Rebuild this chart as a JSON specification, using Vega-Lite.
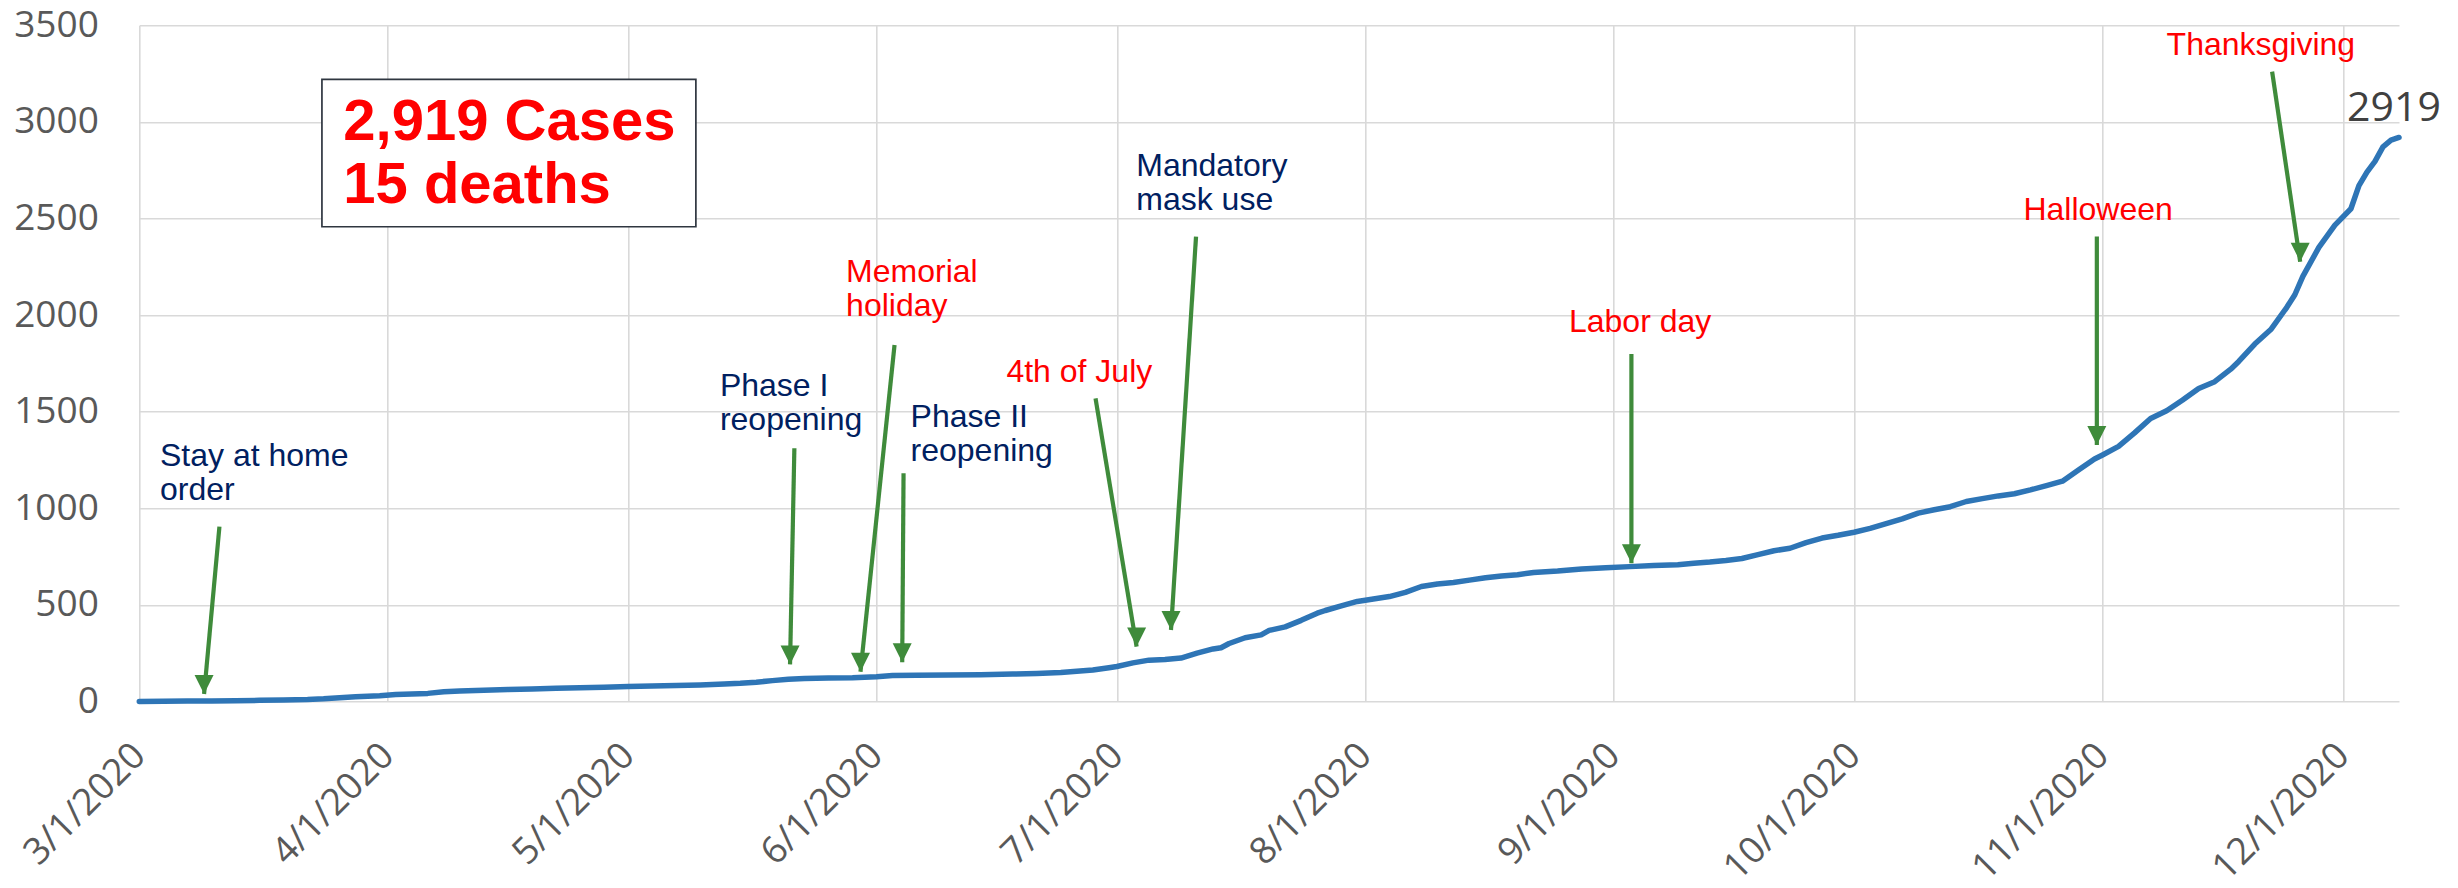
{
  "$schema": "https://vega.github.io/schema/vega-lite/v6.json",
  "width": 2259.7,
  "height": 676.3,
  "autosize": {"type": "none"},
  "padding": {"left": 139.3, "top": 25.2, "right": 59, "bottom": 186.5},
  "background": "white",
  "config": {
    "view": {"stroke": null},
    "axis": {"ticks": false, "domain": false, "gridColor": "#D9D9D9", "gridWidth": 1.6, "labelColor": "#595959", "labelFont": "Open Sans", "labelFontSize": 37}
  },
  "datasets": {
    "cases": [
      {"date": "2020-03-01", "value": 0}, {"date": "2020-03-04", "value": 1}, {"date": "2020-03-07", "value": 2},
      {"date": "2020-03-10", "value": 3}, {"date": "2020-03-13", "value": 4}, {"date": "2020-03-16", "value": 6},
      {"date": "2020-03-19", "value": 8}, {"date": "2020-03-22", "value": 10}, {"date": "2020-03-24", "value": 14},
      {"date": "2020-03-26", "value": 20}, {"date": "2020-03-28", "value": 24}, {"date": "2020-03-31", "value": 30},
      {"date": "2020-04-02", "value": 36}, {"date": "2020-04-04", "value": 39}, {"date": "2020-04-06", "value": 42},
      {"date": "2020-04-08", "value": 50}, {"date": "2020-04-10", "value": 54}, {"date": "2020-04-13", "value": 58},
      {"date": "2020-04-16", "value": 62}, {"date": "2020-04-19", "value": 65}, {"date": "2020-04-22", "value": 68},
      {"date": "2020-04-25", "value": 71}, {"date": "2020-04-28", "value": 74}, {"date": "2020-05-01", "value": 78},
      {"date": "2020-05-04", "value": 80}, {"date": "2020-05-07", "value": 83}, {"date": "2020-05-10", "value": 86},
      {"date": "2020-05-13", "value": 90}, {"date": "2020-05-15", "value": 94}, {"date": "2020-05-17", "value": 100},
      {"date": "2020-05-19", "value": 108}, {"date": "2020-05-21", "value": 115}, {"date": "2020-05-23", "value": 119},
      {"date": "2020-05-26", "value": 121}, {"date": "2020-05-29", "value": 123}, {"date": "2020-06-01", "value": 128},
      {"date": "2020-06-03", "value": 134}, {"date": "2020-06-06", "value": 136}, {"date": "2020-06-10", "value": 137},
      {"date": "2020-06-14", "value": 139}, {"date": "2020-06-18", "value": 142}, {"date": "2020-06-21", "value": 145},
      {"date": "2020-06-24", "value": 150}, {"date": "2020-06-26", "value": 156}, {"date": "2020-06-28", "value": 163},
      {"date": "2020-06-30", "value": 175}, {"date": "2020-07-01", "value": 181}, {"date": "2020-07-03", "value": 200},
      {"date": "2020-07-05", "value": 214}, {"date": "2020-07-07", "value": 217}, {"date": "2020-07-09", "value": 225},
      {"date": "2020-07-11", "value": 250}, {"date": "2020-07-13", "value": 272}, {"date": "2020-07-14", "value": 278},
      {"date": "2020-07-15", "value": 300}, {"date": "2020-07-17", "value": 330}, {"date": "2020-07-19", "value": 345},
      {"date": "2020-07-20", "value": 368}, {"date": "2020-07-22", "value": 386}, {"date": "2020-07-24", "value": 420},
      {"date": "2020-07-26", "value": 457}, {"date": "2020-07-27", "value": 471}, {"date": "2020-07-29", "value": 495},
      {"date": "2020-07-31", "value": 518}, {"date": "2020-08-02", "value": 530}, {"date": "2020-08-04", "value": 543},
      {"date": "2020-08-06", "value": 565}, {"date": "2020-08-08", "value": 595}, {"date": "2020-08-10", "value": 608},
      {"date": "2020-08-12", "value": 616}, {"date": "2020-08-14", "value": 628}, {"date": "2020-08-16", "value": 640},
      {"date": "2020-08-18", "value": 650}, {"date": "2020-08-20", "value": 656}, {"date": "2020-08-22", "value": 668},
      {"date": "2020-08-25", "value": 675}, {"date": "2020-08-28", "value": 686}, {"date": "2020-08-31", "value": 692},
      {"date": "2020-09-03", "value": 698}, {"date": "2020-09-06", "value": 704}, {"date": "2020-09-09", "value": 708},
      {"date": "2020-09-11", "value": 716}, {"date": "2020-09-13", "value": 722}, {"date": "2020-09-15", "value": 730},
      {"date": "2020-09-17", "value": 740}, {"date": "2020-09-19", "value": 760}, {"date": "2020-09-21", "value": 780},
      {"date": "2020-09-23", "value": 793}, {"date": "2020-09-25", "value": 822}, {"date": "2020-09-27", "value": 846},
      {"date": "2020-09-29", "value": 860}, {"date": "2020-10-01", "value": 876}, {"date": "2020-10-03", "value": 896},
      {"date": "2020-10-05", "value": 920}, {"date": "2020-10-07", "value": 945}, {"date": "2020-10-09", "value": 975},
      {"date": "2020-10-11", "value": 992}, {"date": "2020-10-13", "value": 1008}, {"date": "2020-10-15", "value": 1035},
      {"date": "2020-10-17", "value": 1050}, {"date": "2020-10-19", "value": 1064}, {"date": "2020-10-21", "value": 1075},
      {"date": "2020-10-23", "value": 1095}, {"date": "2020-10-25", "value": 1117}, {"date": "2020-10-27", "value": 1140},
      {"date": "2020-10-29", "value": 1198}, {"date": "2020-10-31", "value": 1255}, {"date": "2020-11-01", "value": 1276},
      {"date": "2020-11-03", "value": 1320}, {"date": "2020-11-05", "value": 1390}, {"date": "2020-11-07", "value": 1465},
      {"date": "2020-11-09", "value": 1505}, {"date": "2020-11-11", "value": 1560}, {"date": "2020-11-13", "value": 1620},
      {"date": "2020-11-15", "value": 1655}, {"date": "2020-11-17", "value": 1720}, {"date": "2020-11-18", "value": 1760},
      {"date": "2020-11-20", "value": 1850}, {"date": "2020-11-22", "value": 1925}, {"date": "2020-11-24", "value": 2040},
      {"date": "2020-11-25", "value": 2105}, {"date": "2020-11-26", "value": 2200}, {"date": "2020-11-28", "value": 2350},
      {"date": "2020-11-30", "value": 2465}, {"date": "2020-12-02", "value": 2550}, {"date": "2020-12-03", "value": 2670},
      {"date": "2020-12-04", "value": 2740}, {"date": "2020-12-05", "value": 2795}, {"date": "2020-12-06", "value": 2870},
      {"date": "2020-12-07", "value": 2905}, {"date": "2020-12-08", "value": 2919}
    ],
    "arrows": [
      {"date": "2020-03-11T00:00Z", "value": 905, "date2": "2020-03-09T02:00Z", "value2": 39},
      {"date": "2020-05-21T18:00Z", "value": 1311, "date2": "2020-05-21T05:00Z", "value2": 192},
      {"date": "2020-06-03T06:00Z", "value": 1845, "date2": "2020-05-30T00:00Z", "value2": 154},
      {"date": "2020-06-04T09:00Z", "value": 1181, "date2": "2020-06-04T05:00Z", "value2": 203},
      {"date": "2020-06-28T08:00Z", "value": 1569, "date2": "2020-07-03T11:00Z", "value2": 284},
      {"date": "2020-07-10T21:00Z", "value": 2406, "date2": "2020-07-07T18:00Z", "value2": 370},
      {"date": "2020-09-03T05:00Z", "value": 1799, "date2": "2020-09-03T05:00Z", "value2": 715},
      {"date": "2020-10-31T07:00Z", "value": 2406, "date2": "2020-10-31T07:00Z", "value2": 1328},
      {"date": "2020-11-22T04:00Z", "value": 3260, "date2": "2020-11-25T16:00Z", "value2": 2276}
    ],
    "notes": [
      {"date": "2020-03-03T14:00Z", "value": 1219, "text": "Stay at home\norder", "kind": "policy"},
      {"date": "2020-05-12T11:00Z", "value": 1581, "text": "Phase I\nreopening", "kind": "policy"},
      {"date": "2020-05-28T05:00Z", "value": 2172, "text": "Memorial\nholiday", "kind": "holiday"},
      {"date": "2020-06-05T06:00Z", "value": 1421, "text": "Phase II\nreopening", "kind": "policy"},
      {"date": "2020-06-17T05:00Z", "value": 1655, "text": "4th of July", "kind": "holiday"},
      {"date": "2020-07-03T10:00Z", "value": 2720, "text": "Mandatory\nmask use", "kind": "policy"},
      {"date": "2020-08-26T10:00Z", "value": 1914, "text": "Labor day", "kind": "holiday"},
      {"date": "2020-10-22T03:00Z", "value": 2492, "text": "Halloween", "kind": "holiday"},
      {"date": "2020-11-09T00:00Z", "value": 3346, "text": "Thanksgiving", "kind": "holiday"}
    ],
    "box": [
      {"date": "2020-03-23T19:00Z", "value": 3220, "date2": "2020-05-09T11:00Z", "value2": 2457}
    ],
    "boxtext": [
      {"date": "2020-03-26T11:00Z", "value": 2906, "text": "2,919 Cases\n15 deaths"}
    ]
  },
  "encoding": {
    "x": {
      "field": "date", "type": "temporal", "title": null,
      "scale": {"type": "utc", "domain": [{"year": 2020, "month": 3, "date": 1, "utc": true}, {"year": 2020, "month": 12, "date": 8, "utc": true}]},
      "axis": {"format": "%-m/%-d/%Y", "tickCount": {"interval": "month", "step": 1}, "labelAngle": -45, "labelAlign": "right", "labelBaseline": "middle", "labelPadding": 48, "labelDx": 4, "labelOverlap": false}
    },
    "y": {
      "field": "value", "type": "quantitative", "title": null,
      "scale": {"domain": [0, 3500], "nice": false},
      "axis": {"values": [0, 500, 1000, 1500, 2000, 2500, 3000, 3500], "format": "d", "labelPadding": 41}
    }
  },
  "layer": [
    {
      "data": {"name": "box"},
      "mark": {"type": "rect", "fill": "white", "stroke": "#2F3640", "strokeWidth": 1.7},
      "encoding": {
        "x2": {"field": "date2"},
        "y2": {"field": "value2"}
      }
    },
    {
      "data": {"name": "cases"},
      "mark": {"type": "line", "color": "#2E75B6", "strokeWidth": 5.5, "strokeCap": "round", "strokeJoin": "round"}
    },
    {
      "data": {"name": "arrows"},
      "mark": {"type": "rule", "color": "#3F8B3B", "strokeWidth": 4.2},
      "encoding": {
        "x2": {"field": "date2"},
        "y2": {"field": "value2"}
      }
    },
    {
      "data": {"name": "arrows"},
      "mark": {"type": "point", "shape": "M-1,-2L0,0L1,-2Z", "filled": true, "color": "#3F8B3B", "opacity": 1, "size": 361, "strokeWidth": 0},
      "encoding": {
        "x": {"field": "date2", "type": "temporal", "title": null},
        "y": {"field": "value2", "type": "quantitative", "title": null}
      }
    },
    {
      "data": {"name": "notes"},
      "mark": {"type": "text", "align": "left", "baseline": "alphabetic", "font": "Liberation Sans", "fontSize": 32, "lineHeight": 34, "lineBreak": "\n"},
      "encoding": {
        "text": {"field": "text"},
        "color": {"field": "kind", "type": "nominal", "scale": {"domain": ["policy", "holiday"], "range": ["#002060", "#FF0000"]}, "legend": null}
      }
    },
    {
      "data": {"name": "boxtext"},
      "mark": {"type": "text", "align": "left", "baseline": "alphabetic", "font": "Liberation Sans", "fontWeight": "bold", "fontSize": 58, "lineHeight": 63, "lineBreak": "\n", "color": "#FF0000"},
      "encoding": {
        "text": {"field": "text"}
      }
    },
    {
      "data": {"name": "cases"},
      "transform": [{"filter": "datum.value == 2919"}],
      "mark": {"type": "text", "align": "center", "baseline": "alphabetic", "dx": -5, "dy": -16, "font": "Open Sans", "fontSize": 41, "color": "#404040"},
      "encoding": {
        "text": {"field": "value", "type": "quantitative", "format": "d"}
      }
    }
  ]
}
